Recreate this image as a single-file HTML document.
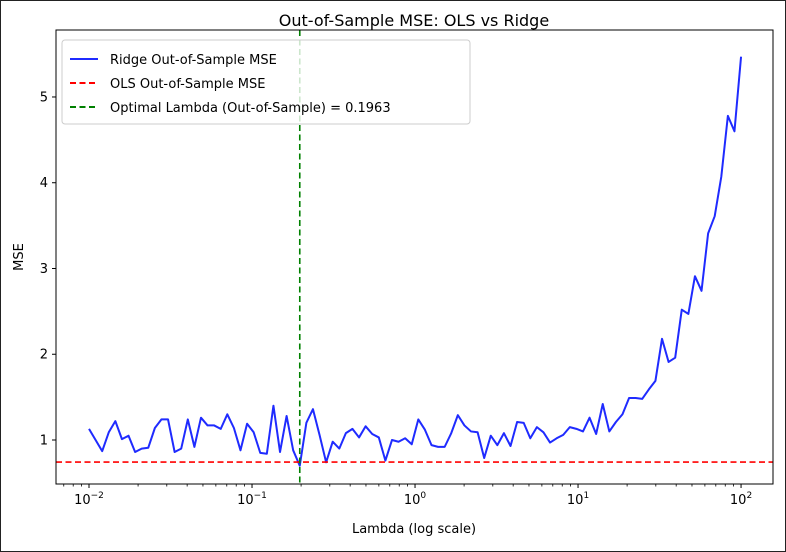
<!DOCTYPE html>
<html><head><meta charset="utf-8"><style>
html,body{margin:0;padding:0;background:#fff;}
svg{display:block;font-family:"DejaVu Sans","Liberation Sans",sans-serif;}
</style></head><body>
<svg id="chart" width="786" height="552" viewBox="0 0 786 552" xmlns="http://www.w3.org/2000/svg">
<rect x="0" y="0" width="786" height="552" fill="#fff" stroke="#222" stroke-width="2"/>
<text x="414" y="26" font-size="16" text-anchor="middle" fill="#000">Out-of-Sample MSE: OLS vs Ridge</text>
<g id="plot"></g>
<text x="414" y="533" font-size="13" text-anchor="middle">Lambda (log scale)</text>
<text transform="translate(23,257) rotate(-90)" font-size="13" text-anchor="middle">MSE</text>
</svg>
<script>
const lambdaExpMin = -2, lambdaExpMax = 2;
const ridgeMSE = [1.13,1.00,0.87,1.09,1.22,1.01,1.05,0.86,0.90,0.91,1.14,1.24,1.24,0.86,0.90,1.24,0.92,1.26,1.17,1.17,1.13,1.30,1.14,0.88,1.19,1.09,0.85,0.84,1.40,0.86,1.28,0.88,0.70,1.20,1.36,1.06,0.74,0.98,0.90,1.08,1.13,1.03,1.16,1.07,1.03,0.76,1.00,0.98,1.02,0.95,1.24,1.12,0.94,0.92,0.92,1.08,1.29,1.17,1.10,1.09,0.79,1.05,0.94,1.08,0.93,1.21,1.20,1.02,1.15,1.09,0.97,1.02,1.06,1.15,1.13,1.10,1.26,1.07,1.42,1.10,1.21,1.30,1.49,1.49,1.48,1.59,1.69,2.18,1.91,1.96,2.52,2.47,2.91,2.74,3.41,3.61,4.07,4.78,4.60,5.47];
const olsMSE = 0.743;
const optimalLambda = 0.1963;
const yTicks = [1,2,3,4,5];
const xTickExps = [-2,-1,0,1,2];

const NS="http://www.w3.org/2000/svg";
const L=56,R=773,T=30,B=484;
const xMinLog=-2.2025,xMaxLog=2.196,yMin=0.487,yMax=5.781;
const xs=v=>L+(Math.log10(v)-xMinLog)/(xMaxLog-xMinLog)*(R-L);
const ys=v=>B-(v-yMin)/(yMax-yMin)*(B-T);
const plot=document.getElementById('plot');
function mk(tag,at,parent){const e=document.createElementNS(NS,tag);for(const k in at)e.setAttribute(k,at[k]);(parent||plot).appendChild(e);return e;}

const n=ridgeMSE.length;
const lambdas=ridgeMSE.map((_,i)=>Math.pow(10,lambdaExpMin+(lambdaExpMax-lambdaExpMin)*i/(n-1)));

// ridge line
let d=ridgeMSE.map((v,i)=>(i?'L':'M')+xs(lambdas[i]).toFixed(2)+','+ys(v).toFixed(2)).join(' ');
const line=mk('path',{d:d,fill:'none',stroke:'#1f2bff','stroke-width':2,'stroke-linejoin':'round'});


// OLS
const ols=mk('line',{x1:L,x2:R,y1:ys(olsMSE),y2:ys(olsMSE),stroke:'#ff0000','stroke-width':1.6,'stroke-dasharray':'6,3.5'});


// optimal
const opt=mk('line',{x1:xs(optimalLambda),x2:xs(optimalLambda),y1:T,y2:B,stroke:'#008000','stroke-width':1.6,'stroke-dasharray':'6,3.5'});



// axes frame
const frame=mk('rect',{x:L,y:T,width:R-L,height:B-T,fill:'none',stroke:'#000','stroke-width':1});



// y ticks
yTicks.forEach(v=>{
  const y=ys(v);
  const t=mk('line',{x1:L-4,x2:L,y1:y,y2:y,stroke:'#000'});
  
  
  const tx=mk('text',{x:L-8,y:y+4.5,'font-size':13,'text-anchor':'end'});
  tx.textContent=v;
  
  
});
// x ticks
xTickExps.forEach(e=>{
  const x=xs(Math.pow(10,e));
  const t=mk('line',{x1:x,x2:x,y1:B,y2:B+4,stroke:'#000'});
  
  
  const tx=mk('text',{x:x,y:B+20,'font-size':13,'text-anchor':'middle'});
  
  
  tx.appendChild(document.createTextNode('10'));
  const s=document.createElementNS(NS,'tspan');s.setAttribute('dy','-6');s.setAttribute('font-size','9');s.textContent=(e<0?'\u2212':'')+Math.abs(e);tx.appendChild(s);
});
// minor ticks
for(let e=-3;e<=2;e++){for(let m=2;m<10;m++){const v=m*Math.pow(10,e);const lv=Math.log10(v);if(lv<xMinLog||lv>xMaxLog)continue;
  const x=xs(v);const t=mk('line',{x1:x,x2:x,y1:B,y2:B+2.5,stroke:'#000','stroke-width':0.8});
  
  }}

// legend
const lg=mk('g',{});


mk('rect',{x:62,y:40,width:408,height:84,rx:3,fill:'#fff','fill-opacity':0.8,stroke:'#ccc'},lg);
const entries=[['Ridge Out-of-Sample MSE','#1f2bff',null],['OLS Out-of-Sample MSE','#ff0000','6,3.5'],['Optimal Lambda (Out-of-Sample) = 0.1963','#008000','6,3.5']];
entries.forEach((en,i)=>{
  const y=59+i*24;
  const g=mk('g',{},lg);
  
  
  const at={x1:70,x2:98,y1:y,y2:y,stroke:en[1],'stroke-width':2};
  if(en[2])at['stroke-dasharray']=en[2];
  mk('line',at,g);
  const tx=mk('text',{x:110,y:y+5,'font-size':13},g);
  tx.textContent=en[0];
});
</script>
</body></html>
